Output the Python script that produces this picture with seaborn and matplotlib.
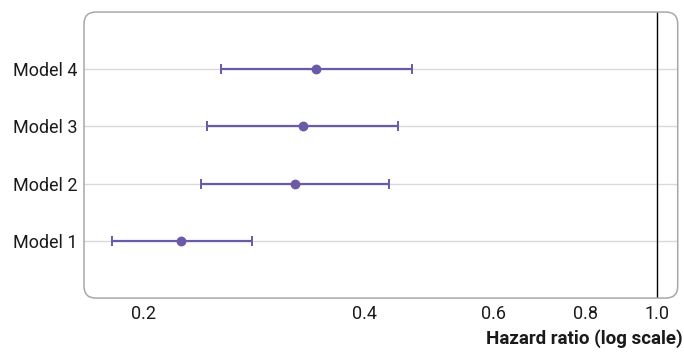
import numpy as np
import pandas as pd
import matplotlib
matplotlib.use("Agg")
import matplotlib.pyplot as plt
import seaborn as sns
from matplotlib.patches import FancyBboxPatch
from matplotlib.transforms import IdentityTransform
from matplotlib.ticker import FixedLocator, FixedFormatter, NullLocator

# ── data ────────────────────────────────────────────────────────────────────
models = ["Model 1", "Model 2", "Model 3", "Model 4"]
hr     = [0.225, 0.321, 0.329, 0.343]
ci_lo  = [0.181, 0.239, 0.244, 0.255]
ci_hi  = [0.281, 0.431, 0.444, 0.464]
xticks = [0.2, 0.4, 0.6, 0.8, 1.0]
xtick_labels = ["0.2", "0.4", "0.6", "0.8", "1.0"]

PURPLE = "#6a5aa8"
TEXT = "#1a1a1a"

sns.set_theme(style="white")
plt.rcParams['font.family'] = ['Roboto', 'DejaVu Sans']

df = pd.DataFrame({"model": models, "hr": hr, "lo": ci_lo, "hi": ci_hi})
df["ypos"] = np.arange(1, len(models) + 1)

fig = plt.figure(figsize=(6.84, 3.54), dpi=100)
ax = fig.add_axes([0.1228, 0.158, 0.868, 0.808])
ax.set_xscale("log")
ax.set_xlim(0.1657, 1.068)
ax.set_ylim(0, 5)

# horizontal gridlines at each model
for y in df["ypos"]:
    ax.axhline(y, color="#d9d9d9", lw=1, zorder=0)

# reference line at HR = 1
ax.axvline(1.0, color="black", lw=1, zorder=1)

# confidence intervals + point estimates
ax.errorbar(df["hr"], df["ypos"],
            xerr=[df["hr"] - df["lo"], df["hi"] - df["hr"]],
            fmt="none", ecolor=PURPLE, elinewidth=1.6, capsize=3.5,
            capthick=1.4, zorder=2)
sns.scatterplot(data=df, x="hr", y="ypos", ax=ax, color=PURPLE, s=50,
                edgecolor=PURPLE, linewidth=0, zorder=3)

# rounded frame drawn in pixel coords
for sp in ax.spines.values():
    sp.set_visible(False)
bb = ax.get_window_extent()
frame = FancyBboxPatch((bb.x0, bb.y0), bb.width, bb.height,
                       boxstyle="round,pad=0,rounding_size=12",
                       transform=IdentityTransform(), fill=False,
                       edgecolor="#a8a8a8", lw=1.1, zorder=4)
fig.add_artist(frame)

ax.xaxis.set_major_locator(FixedLocator(xticks))
ax.xaxis.set_major_formatter(FixedFormatter(xtick_labels))
ax.xaxis.set_minor_locator(NullLocator())
ax.tick_params(axis="x", direction="in", length=6, width=1, color="#b0b0b0",
               labelsize=13, pad=5, labelcolor=TEXT)

ax.set_yticks(df["ypos"])
ax.set_yticklabels(df["model"])
ax.tick_params(axis="y", length=0, labelsize=13, pad=5, labelcolor=TEXT)
ax.set_xlabel("")
ax.set_ylabel("")

fig.text(683 / 684, 1 - 339 / 354, "Hazard ratio (log scale)", ha="right",
         va="center", fontweight="bold", fontsize=13.5, color=TEXT)

fig.savefig("out.png", dpi=100)
